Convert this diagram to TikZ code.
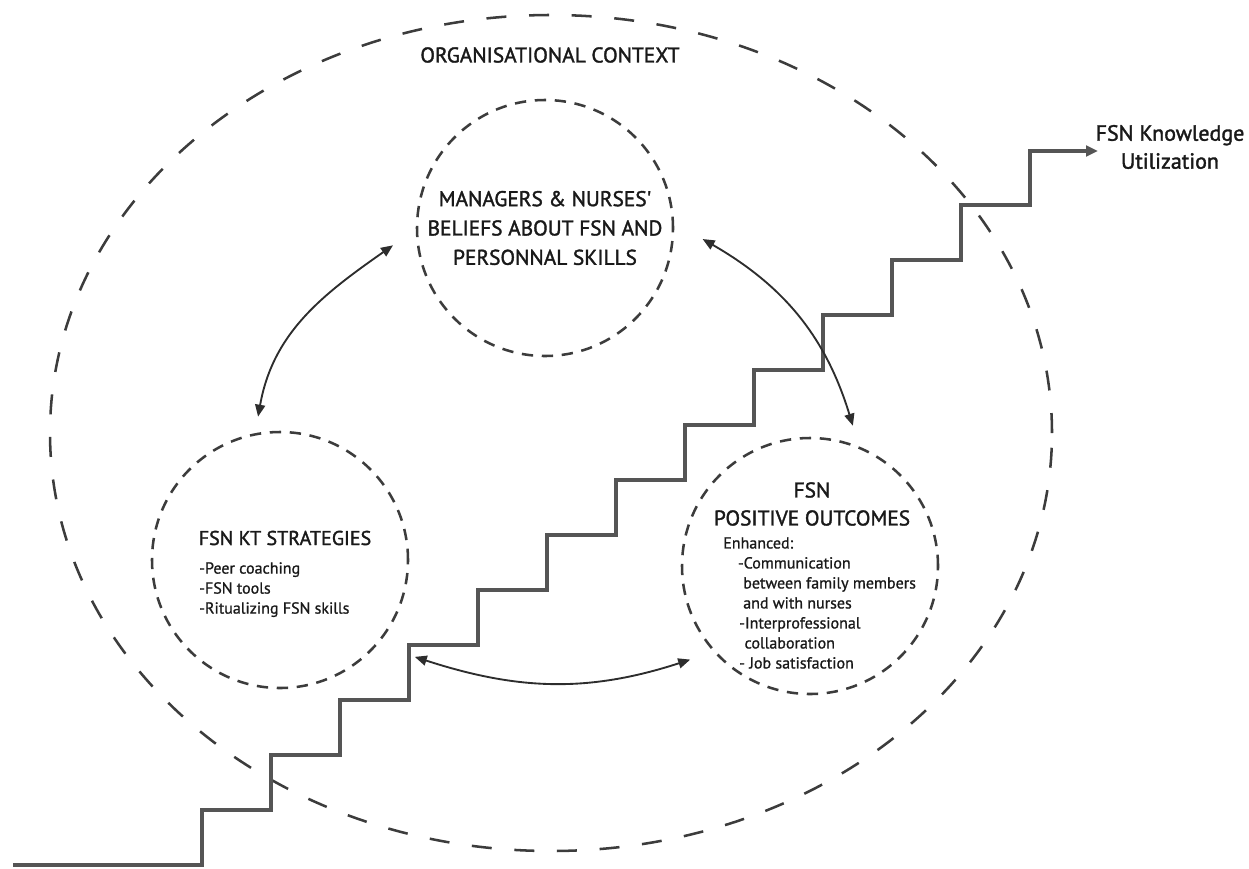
\documentclass[tikz,border=0pt]{standalone}
\usepackage{fontspec}
\setmainfont{PT Sans}[FakeBold=1.2]
\newfontfamily\headf{PT Sans}[FakeBold=1.6]
\newfontfamily\smallf{PT Sans}[FakeBold=1.0]
\usetikzlibrary{arrows.meta,shapes.geometric}
\definecolor{dashc}{RGB}{60,60,60}
\definecolor{stairc}{RGB}{85,85,85}
\definecolor{arrc}{RGB}{45,45,45}
\definecolor{txtc}{RGB}{25,25,25}
\begin{document}
\begin{tikzpicture}[x=0.75pt,y=-0.75pt,
  dcirc/.style={circle, draw=dashc, line width=1.9pt, dash pattern=on 8.5pt off 6.5pt,
    minimum size=192pt, inner sep=0pt, text=txtc},
  orgbox/.style={ellipse, draw=dashc, line width=1.9pt, dash pattern=on 15pt off 17pt,
    inner sep=0pt},
  stair/.style={draw=stairc, line width=2.7pt, line join=miter,
    -{Triangle[length=9pt,width=8pt]}},
  dbl/.style={draw=arrc, line width=1.4pt,
    {Triangle[length=9pt,width=7.5pt]}-{Triangle[length=9pt,width=7.5pt]}},
  ttl/.style={text=txtc, inner sep=0pt, align=center},
  small/.style={text=txtc, inner sep=0pt, align=left, font=\smallf\fontsize{12}{15}\selectfont}]
\useasboundingbox (0,0) rectangle (1249,868);

% organisational context
\node[orgbox, minimum width=751.5pt, minimum height=627pt] (org) at (551,433) {};
\node[ttl, font=\headf\fontsize{16}{18}\selectfont] (orgt) at (550,55) {ORGANISATIONAL CONTEXT};

% circles
\node[dcirc, align=center, font=\headf\fontsize{16}{22}\selectfont] (mgr) at (545,228)
  {MANAGERS \& NURSES'\\BELIEFS ABOUT FSN AND\\PERSONNAL SKILLS};
\node[dcirc] (kt) at (280,560) {};
\node[dcirc] (pos) at (810,566) {};

\node[ttl, font=\headf\fontsize{15}{17}\selectfont] (ktt) at (285,538) {FSN KT STRATEGIES};
\node[small, anchor=north west] (ktb) at (199,562)
  {-Peer coaching\\-FSN tools\\-Ritualizing FSN skills};

\node[ttl, font=\headf\fontsize{16}{21}\selectfont] (post) at (812,504) {FSN\\POSITIVE OUTCOMES};
\node[small, anchor=north west] (posb) at (723,537)
  {Enhanced:\\
   \hspace*{11pt}-Communication\\
   \hspace*{15pt}between family members\\
   \hspace*{15pt}and with nurses\\
   \hspace*{12pt}-Interprofessional\\
   \hspace*{16pt}collaboration\\
   \hspace*{12pt}- Job satisfaction};

% knowledge utilization
\node[ttl, font=\headf\fontsize{16.5}{21}\selectfont] (ku) at (1170,147) {FSN Knowledge\\Utilization};
\coordinate (s0) at (13,865);
\coordinate (kuin) at (1098,151);

% staircase
\draw[stair] (s0) -- (202,865)
  \foreach \i in {0,...,11} { -- ++(0,-55) -- ++(69,0) }
  -- ++(0,-54) -- (kuin);

% relations
\draw[dbl] ([shift={(98.7:108.75pt)}]kt.center) to[out=80,in=215]
  ([shift={(186.5:114.75pt)}]mgr.center);
\draw[dbl] ([shift={(-4:118.5pt)}]mgr.center) to[out=-30,in=107]
  ([shift={(73:110pt)}]pos.center);
\draw[dbl] ([shift={(-35.7:124.5pt)}]kt.center) to[out=-18,in=198]
  ([shift={(218:114pt)}]pos.center);
\end{tikzpicture}
\end{document}
